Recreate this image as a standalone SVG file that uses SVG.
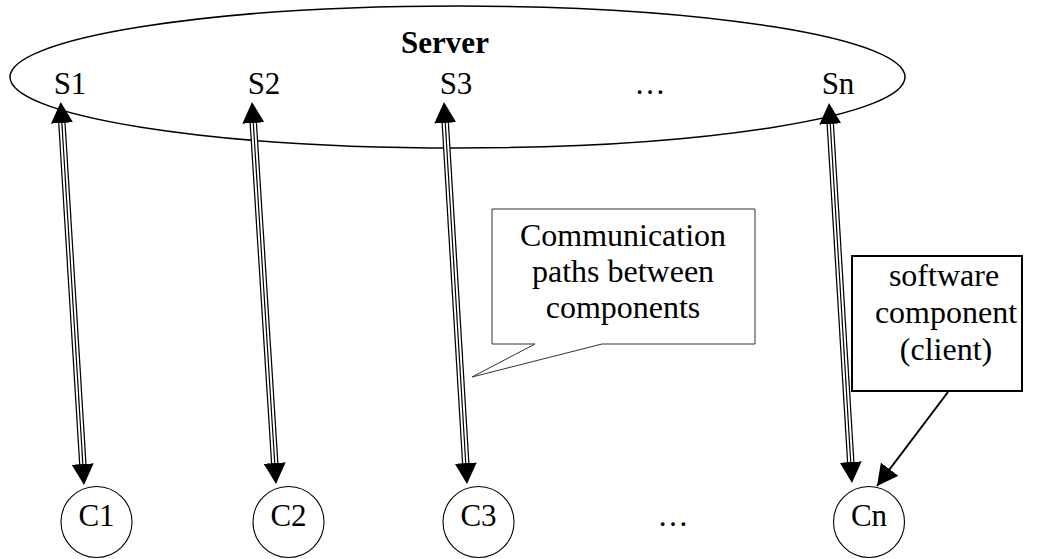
<svg xmlns="http://www.w3.org/2000/svg" width="1039" height="559" viewBox="0 0 1039 559">
  <style>
    text { font-family: "Liberation Serif", "Times New Roman", serif; fill: #000; text-anchor: middle; }
    .lbl { font-size: 31px; }
    .note { font-size: 32px; }
    .title { font-size: 31px; font-weight: bold; }
    .shape { fill: #fff; stroke: #000; stroke-width: 1.5; }
    .node { fill: #fff; stroke: #000; stroke-width: 1.1; }
    .outer { stroke: #000; stroke-width: 7.5; fill: none; }
    .gap { stroke: #fff; stroke-width: 5; fill: none; }
    .inner { stroke: #000; stroke-width: 1.2; fill: none; }
    .tips { stroke: none; fill: none; marker-start: url(#head); marker-end: url(#head); }
    .pointer { stroke: #000; stroke-width: 2; fill: none; marker-end: url(#head); }
  </style>
  <defs>
    <!-- solid triangular arrowhead shared by all connectors -->
    <marker id="head" markerUnits="userSpaceOnUse" viewBox="0 0 21 22" refX="21" refY="11" markerWidth="21" markerHeight="22" orient="auto-start-reverse">
      <path d="M0,0 L21,11 L0,22 Z" fill="#000"/>
    </marker>
  </defs>

  <rect width="1039" height="559" fill="#fff"/>

  <!-- server -->
  <g id="server">
    <ellipse class="shape" cx="457.5" cy="77" rx="447.5" ry="71"/>
    <text class="title" x="445" y="53">Server</text>
    <text class="lbl" x="70" y="94">S1</text>
    <text class="lbl" x="264" y="94">S2</text>
    <text class="lbl" x="456" y="94">S3</text>
    <text class="lbl" x="650" y="94">…</text>
    <text class="lbl" x="838" y="94">Sn</text>
  </g>

  <!-- clients -->
  <g id="c1">
    <circle class="node" cx="96.5" cy="522" r="35.5"/>
    <text class="lbl" x="96.5" y="526">C1</text>
  </g>
  <g id="c2">
    <circle class="node" cx="288.5" cy="522" r="35.5"/>
    <text class="lbl" x="288.5" y="526">C2</text>
  </g>
  <g id="c3">
    <circle class="node" cx="478.5" cy="522" r="35.5"/>
    <text class="lbl" x="478.5" y="526">C3</text>
  </g>
  <g id="c-dots">
    <text class="lbl" x="673" y="526">…</text>
  </g>
  <g id="cn">
    <circle class="node" cx="869" cy="522" r="35.5"/>
    <text class="lbl" x="869" y="526">Cn</text>
  </g>

  <!-- callouts -->
  <g id="paths-note">
    <path d="M492,209 H755 V344 H602 L472,377 L535,344 H492 Z" fill="#fff" stroke="#333" stroke-width="1"/>
    <text class="note" x="623" y="246">Communication</text>
    <text class="note" x="623" y="282">paths between</text>
    <text class="note" x="623" y="318">components</text>
  </g>
  <g id="client-note">
    <rect x="852" y="256" width="170" height="135" fill="#fff" stroke="#000" stroke-width="2"/>
    <text class="note" x="944" y="286">software</text>
    <text class="note" x="946" y="323">component</text>
    <text class="note" x="946" y="360">(client)</text>
  </g>

  <!-- connectors: triple-line shafts with heads at both ends -->
  <g id="connectors">
    <g>
      <line class="outer" x1="61.7" y1="120" x2="83" y2="467"/>
      <line class="gap" x1="61.7" y1="120" x2="83" y2="467"/>
      <line class="inner" x1="61.7" y1="120" x2="83" y2="467"/>
      <line class="tips" x1="60.7" y1="102" x2="84" y2="485"/>
    </g>
    <g>
      <line class="outer" x1="253.1" y1="120" x2="274.9" y2="466"/>
      <line class="gap" x1="253.1" y1="120" x2="274.9" y2="466"/>
      <line class="inner" x1="253.1" y1="120" x2="274.9" y2="466"/>
      <line class="tips" x1="252" y1="102" x2="276" y2="484"/>
    </g>
    <g>
      <line class="outer" x1="445.1" y1="120" x2="465.9" y2="466"/>
      <line class="gap" x1="445.1" y1="120" x2="465.9" y2="466"/>
      <line class="inner" x1="445.1" y1="120" x2="465.9" y2="466"/>
      <line class="tips" x1="444" y1="102" x2="467" y2="484"/>
    </g>
    <g>
      <line class="outer" x1="830.1" y1="121" x2="850.9" y2="465"/>
      <line class="gap" x1="830.1" y1="121" x2="850.9" y2="465"/>
      <line class="inner" x1="830.1" y1="121" x2="850.9" y2="465"/>
      <line class="tips" x1="829" y1="103" x2="852" y2="483"/>
    </g>
    <line class="pointer" x1="948" y1="392" x2="877" y2="486"/>
  </g>
</svg>
